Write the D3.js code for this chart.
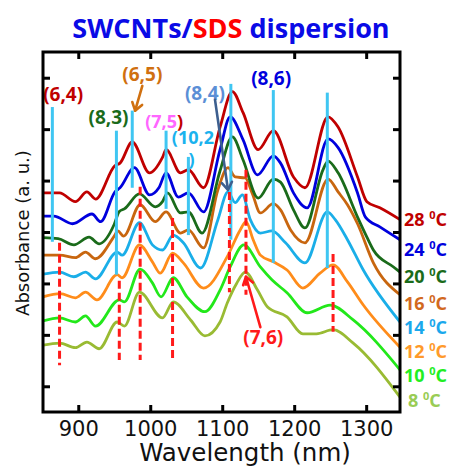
<!DOCTYPE html>
<html>
<head>
<meta charset="utf-8">
<script src="https://cdn.jsdelivr.net/npm/d3@7"></script>
<style>
  body { margin: 0; background: #fff; }
  svg { display: block; }
</style>
</head>
<body>
<svg id="chart" width="456" height="467"></svg>
<script>
// Absorbance spectra (offset) of an SWCNT/SDS dispersion at several temperatures.
// Each series: [wavelength (nm), absorbance (a.u., stacked offset)]
const t28 = [[851,4.26],[874,4.26],[896,4.09],[912,4.28],[924,4.14],[951,4.79],[958,4.84],[975,5.25],[999,4.65],[1017,4.95],[1022,5.10],[1042,4.65],[1053,4.71],[1074,4.36],[1097,5.54],[1114,6.23],[1129,5.82],[1150,5.10],[1171,5.47],[1199,4.57],[1215,4.36],[1247,5.74],[1261,5.54],[1288,4.57],[1301,4.09],[1319,3.97],[1347,3.74]];
const t24 = [[851,3.81],[866,3.81],[892,3.66],[919,3.85],[931,3.70],[951,4.28],[958,4.36],[978,4.75],[999,4.22],[1012,4.36],[1022,4.65],[1039,4.18],[1053,4.26],[1074,3.89],[1097,5.10],[1111,5.74],[1129,5.29],[1149,4.61],[1171,4.98],[1181,4.84],[1199,4.26],[1218,3.97],[1247,5.31],[1261,5.14],[1288,4.26],[1299,3.79],[1319,3.60],[1347,3.35]];
const t20 = [[851,3.39],[872,3.37],[894,3.25],[915,3.40],[929,3.27],[950,3.65],[957,3.90],[964,3.95],[985,4.24],[1007,3.99],[1017,4.09],[1024,4.26],[1042,3.87],[1053,3.89],[1072,3.48],[1097,4.69],[1114,5.35],[1129,4.90],[1150,4.16],[1171,4.53],[1181,4.47],[1199,3.93],[1215,3.58],[1240,4.71],[1247,4.88],[1261,4.65],[1288,3.79],[1301,3.40],[1310,3.15],[1338,2.82],[1347,2.72]];
const t16 = [[851,3.05],[874,3.05],[896,3.00],[910,3.11],[924,2.98],[950,3.42],[955,3.52],[963,3.42],[986,4.03],[1007,3.70],[1022,3.89],[1042,3.48],[1053,3.54],[1074,3.19],[1094,4.32],[1108,4.75],[1118,4.57],[1132,4.55],[1142,4.24],[1153,3.87],[1171,4.05],[1181,3.93],[1195,3.54],[1215,3.29],[1247,4.53],[1261,4.28],[1274,4.03],[1288,3.66],[1310,2.90],[1347,2.28]];
const t14 = [[851,2.68],[874,2.72],[894,2.63],[910,2.72],[924,2.59],[954,3.11],[961,3.05],[985,3.68],[1003,3.25],[1017,3.15],[1032,3.44],[1046,3.29],[1070,2.80],[1094,3.74],[1108,4.28],[1118,4.07],[1128,4.22],[1139,3.74],[1153,3.48],[1169,3.52],[1188,3.29],[1215,2.90],[1246,3.89],[1257,3.74],[1274,3.35],[1296,2.76],[1347,1.75]];
const t12 = [[851,2.24],[875,2.30],[896,2.22],[910,2.33],[926,2.18],[954,2.67],[961,2.61],[985,3.25],[1003,2.92],[1014,2.70],[1031,3.09],[1046,2.90],[1074,2.41],[1107,3.02],[1125,3.54],[1133,3.70],[1143,3.35],[1153,3.05],[1171,2.92],[1190,2.76],[1212,2.41],[1236,2.70],[1254,2.86],[1274,2.53],[1296,2.08],[1347,1.26]];
const t10 = [[851,1.77],[874,1.83],[896,1.75],[910,1.87],[924,1.67],[957,2.18],[964,2.14],[986,2.78],[1003,2.51],[1015,2.24],[1032,2.61],[1051,2.24],[1076,1.95],[1097,2.37],[1111,2.82],[1130,3.25],[1153,2.82],[1169,2.57],[1190,2.32],[1218,1.93],[1250,2.08],[1282,1.79],[1347,0.82]];
const t8  = [[851,1.30],[874,1.34],[896,1.25],[912,1.36],[929,1.23],[954,1.75],[964,1.67],[985,2.33],[1017,1.83],[1032,2.14],[1056,1.79],[1076,1.48],[1097,1.75],[1107,2.12],[1120,2.50],[1132,2.72],[1149,2.37],[1163,2.04],[1190,1.85],[1212,1.52],[1231,1.52],[1254,1.60],[1282,1.34],[1347,0.29]];

const temperatures = ["28", "24", "20", "16", "14", "12", "10", "8"];
const seriesList = [t28, t24, t20, t16, t14, t12, t10, t8];
const seriesColors = ["#c00000", "#0000dd", "#1a6b1a", "#c8660f", "#1aaee8", "#ff8c1a", "#22e81a", "#99bb33"];
const labelColors  = ["#c00000", "#0000dd", "#1a6b1a", "#d2691e", "#1aa8ec", "#ff9a2a", "#22ee22", "#99cc55"];
// Label baselines, in absorbance units, beside the curve ends
const labelLevels = [3.62, 3.04, 2.51, 1.98, 1.52, 1.05, 0.58, 0.10];

const wavelengthTicks = [900, 1000, 1100, 1200, 1300];
const absorbanceTicks = [0.5, 1.5, 2.5, 3.5, 4.5, 5.5, 6.5];

// High-temperature transition markers (solid) and low-temperature ones (dashed)
const solidPeaks  = [864, 953, 975, 1022, 1053, 1112, 1171, 1246];
const solidTop    = [5.93, 5.47, 5.86, 5.47, 4.96, 6.38, 6.26, 6.21];
const solidBottom = [3.31, 2.67, 4.36, 3.95, 3.44, 3.35, 2.90, 2.80];
const dashedPeaks  = [874, 957, 986, 1031, 1110, 1133, 1254];
const dashedTop    = [3.29, 2.55, 4.38, 3.77, 4.28, 4.71, 3.07];
const dashedBottom = [0.91, 1.01, 1.01, 1.05, 2.33, 2.28, 1.56];

const svg = d3.select("#chart");
const x = d3.scaleLinear().domain([851, 1347]).range([43, 400]);
const y = d3.scaleLinear().domain([0, 7]).range([412, 52]);

const boldFont = "'Open Sans', 'Noto Sans', sans-serif";
const plainFont = "'DejaVu Sans', sans-serif";

// Title
const title = svg.append("text")
  .attr("x", 231).attr("y", 38)
  .attr("text-anchor", "middle")
  .attr("font-family", boldFont).attr("font-weight", 700).attr("font-size", 27);
title.append("tspan").attr("fill", "#0a0ae6").text("SWCNTs/");
title.append("tspan").attr("fill", "#ff0000").text("SDS");
title.append("tspan").attr("fill", "#0a0ae6").text(" dispersion");

// Curves
svg.append("defs").append("clipPath").attr("id", "plotClip")
  .append("rect").attr("x", 43).attr("y", 52).attr("width", 357).attr("height", 360);

const line = d3.line()
  .x(d => x(d[0])).y(d => y(d[1]))
  .curve(d3.curveMonotoneX);

const curves = svg.append("g").attr("clip-path", "url(#plotClip)");
seriesList.slice().reverse().forEach((s, i) => {
  const k = seriesList.length - 1 - i;
  curves.append("path")
    .attr("d", line(s))
    .attr("fill", "none")
    .attr("stroke", seriesColors[k])
    .attr("stroke-width", 2.8)
    .attr("stroke-linejoin", "round");
});

// Transition markers
const marks = svg.append("g");
solidPeaks.forEach((w, i) => {
  marks.append("line")
    .attr("x1", x(w)).attr("x2", x(w))
    .attr("y1", y(solidTop[i])).attr("y2", y(solidBottom[i]))
    .attr("stroke", "#3fc6f2").attr("stroke-width", 3);
});
dashedPeaks.forEach((w, i) => {
  marks.append("line")
    .attr("x1", x(w)).attr("x2", x(w))
    .attr("y1", y(dashedTop[i])).attr("y2", y(dashedBottom[i]))
    .attr("stroke", "#ff1a1a").attr("stroke-width", 3)
    .attr("stroke-dasharray", "8,4");
});

// Chirality labels
const chiralLabels = [
  { t: "(6,4)", w: 879, a: 6.05, c: "#c00000" },
  { t: "(8,3)", w: 942, a: 5.60, c: "#1a6b1a" },
  { t: "(6,5)", w: 989, a: 6.44, c: "#d07010" },
  { t: "(8,4)", w: 1076, a: 6.07, c: "#5b8fd6" },
  { t: "(8,6)", w: 1168, a: 6.36, c: "#0000dd" },
  { t: "(7,6)", w: 1157, a: 1.32, c: "#ff1a1a" }
];
const lab = svg.append("g")
  .attr("font-family", boldFont).attr("font-weight", 700).attr("font-size", 19);
chiralLabels.forEach(l => {
  lab.append("text").attr("x", x(l.w)).attr("y", y(l.a))
    .attr("text-anchor", "middle").attr("fill", l.c).text(l.t);
});
const l75 = lab.append("text").attr("x", x(993)).attr("y", y(5.53)).attr("font-size", 18);
l75.append("tspan").attr("fill", "#ff66ff").text("(7,5");
l75.append("tspan").attr("fill", "#c00000").text(")");
lab.append("text").attr("x", x(1030)).attr("y", y(5.22)).attr("font-size", 18)
  .attr("fill", "#1ab2ee").text("(10,2");
lab.append("text").attr("x", x(1053)).attr("y", y(4.78)).attr("font-size", 18)
  .attr("fill", "#1ab2ee").text(")");

// Arrows pointing at features
function arrow(w1, a1, w2, a2, color) {
  const x1 = x(w1), y1 = y(a1), x2 = x(w2), y2 = y(a2);
  const ang = Math.atan2(y2 - y1, x2 - x1);
  const len = 9, spread = 0.6;
  const g = svg.append("g").attr("stroke", color).attr("stroke-width", 2.6)
    .attr("fill", "none").attr("stroke-linecap", "round").attr("stroke-linejoin", "round");
  g.append("line").attr("x1", x1).attr("y1", y1).attr("x2", x2).attr("y2", y2);
  const p = [
    [x2 - len * Math.cos(ang - spread), y2 - len * Math.sin(ang - spread)],
    [x2, y2],
    [x2 - len * Math.cos(ang + spread), y2 - len * Math.sin(ang + spread)]
  ];
  g.append("path").attr("d", d3.line()(p));
}
arrow(989, 6.34, 979, 5.86, "#d07010");
arrow(1090, 6.07, 1108, 4.32, "#3d5f8f");
arrow(1153, 1.65, 1133, 2.63, "#ff1a1a");

// Axes: ticks point inward on all four sides
const axisStyle = g => {
  g.select(".domain").remove();
  g.selectAll(".tick line").attr("stroke", "#000").attr("stroke-width", 3);
};
svg.append("g").attr("transform", "translate(0,412)")
  .call(d3.axisBottom(x).tickValues(wavelengthTicks).tickFormat(d3.format("d"))
    .tickSizeInner(-7).tickSizeOuter(0).tickPadding(9))
  .call(axisStyle)
  .call(g => g.selectAll(".tick text").attr("font-family", plainFont).attr("font-size", 21).attr("fill", "#111"));
svg.append("g").attr("transform", "translate(0,52)")
  .call(d3.axisTop(x).tickValues(wavelengthTicks).tickSizeInner(-7).tickSizeOuter(0).tickFormat(""))
  .call(axisStyle);
svg.append("g").attr("transform", "translate(43,0)")
  .call(d3.axisLeft(y).tickValues(absorbanceTicks).tickSizeInner(-7).tickSizeOuter(0).tickFormat(""))
  .call(axisStyle);
svg.append("g").attr("transform", "translate(400,0)")
  .call(d3.axisRight(y).tickValues(absorbanceTicks).tickSizeInner(-7).tickSizeOuter(0).tickFormat(""))
  .call(axisStyle);
svg.append("rect").attr("x", 43).attr("y", 52).attr("width", 357).attr("height", 360)
  .attr("fill", "none").attr("stroke", "#000").attr("stroke-width", 3);

// Axis titles
svg.append("text").attr("x", 245).attr("y", 461).attr("text-anchor", "middle")
  .attr("font-family", plainFont).attr("font-size", 24.5).attr("fill", "#111")
  .text("Wavelength (nm)");
svg.append("text").attr("transform", "translate(29,233) rotate(-90)")
  .attr("text-anchor", "middle")
  .attr("font-family", plainFont).attr("font-size", 18).attr("fill", "#111")
  .text("Absorbance (a. u.)");

// Temperature labels
temperatures.forEach((t, i) => {
  const tx = svg.append("text")
    .attr("x", t.length === 1 ? 408 : 404).attr("y", y(labelLevels[i]))
    .attr("font-family", boldFont).attr("font-weight", 700).attr("font-size", 18)
    .attr("fill", labelColors[i]);
  tx.append("tspan").text(t + " ");
  tx.append("tspan").attr("font-size", 11).attr("dy", -7).text("0");
  tx.append("tspan").attr("dy", 7).text("C");
});
</script>
</body>
</html>
